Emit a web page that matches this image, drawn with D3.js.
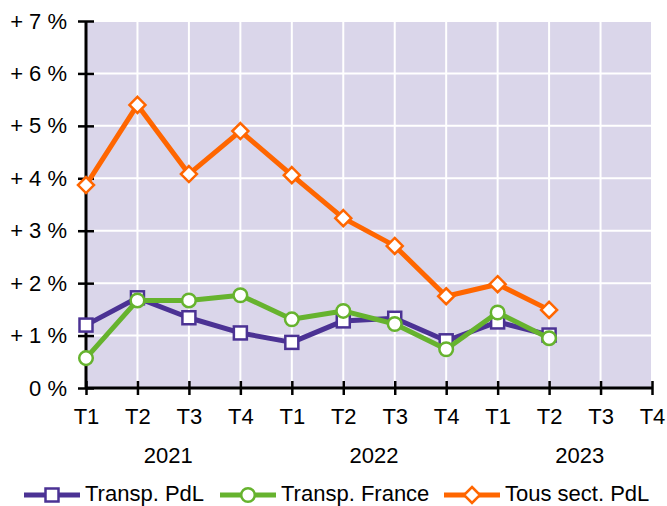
<!DOCTYPE html>
<html>
<head>
<meta charset="utf-8">
<script src="https://cdn.jsdelivr.net/npm/d3@7"></script>
<style>
  body { margin: 0; background: #fff; }
  text { font-family: "Liberation Sans", Arial, sans-serif; }
</style>
</head>
<body>
<div class="chart"></div>
<script>
// quarters (T1..T4) over 2021-2023
const quarters = ["2021-T1","2021-T2","2021-T3","2021-T4","2022-T1","2022-T2","2022-T3","2022-T4","2023-T1","2023-T2","2023-T3","2023-T4"];
const quarterLabels = ["T1","T2","T3","T4","T1","T2","T3","T4","T1","T2","T3","T4"];
const years = ["2021","2022","2023"];
const yTicks = [0,1,2,3,4,5,6,7];
const yTickLabels = ["0 %","+ 1 %","+ 2 %","+ 3 %","+ 4 %","+ 5 %","+ 6 %","+ 7 %"];

const transpPdl = [1.20,1.72,1.34,1.05,0.87,1.28,1.33,0.90,1.26,1.01];
const transpFrance = [0.57,1.67,1.67,1.77,1.31,1.47,1.22,0.74,1.44,0.95];
const tousSectPdl = [3.87,5.40,4.08,4.90,4.06,3.24,2.71,1.75,1.98,1.49];

const seriesNames = ["Transp. PdL","Transp. France","Tous sect. PdL"];

function Charting(){
    const width = 667, height = 506;
    const left = 86, right = 652, top = 21, bottom = 388;
    const fontSize = 22;

    const svg = d3.select(".chart").append("svg")
    .attr("width", width)
    .attr("height", height);

    const xScale = d3.scalePoint()
    .domain(quarters)
    .range([left, right]);

    const yScale = d3.scaleLinear()
    .domain([0, 7])
    .range([bottom, top]);

    // plot background
    svg.append("rect")
    .attr("x", left)
    .attr("y", top)
    .attr("width", right - left)
    .attr("height", bottom - top)
    .attr("fill", "#dad6ea");

    // white grid
    svg.append("g")
    .selectAll("line")
    .data(yTicks)
    .enter()
    .append("line")
    .attr("x1", left)
    .attr("x2", right)
    .attr("y1", d => yScale(d))
    .attr("y2", d => yScale(d))
    .attr("stroke", "#fff")
    .attr("stroke-width", 2);

    svg.append("g")
    .selectAll("line")
    .data(quarters)
    .enter()
    .append("line")
    .attr("x1", d => xScale(d))
    .attr("x2", d => xScale(d))
    .attr("y1", top)
    .attr("y2", bottom)
    .attr("stroke", "#fff")
    .attr("stroke-width", 2);

    // axes
    const yAxis = d3.axisLeft(yScale)
    .tickValues(yTicks)
    .tickFormat((d, i) => yTickLabels[i])
    .tickSize(8)
    .tickPadding(11);

    const gy = svg.append("g")
    .attr("transform", `translate(${left},0)`)
    .call(yAxis);

    const xAxis = d3.axisBottom(xScale)
    .tickFormat((d, i) => quarterLabels[i])
    .tickSize(7)
    .tickPadding(13);

    const gx = svg.append("g")
    .attr("transform", `translate(0,${bottom})`)
    .call(xAxis);

    gy.selectAll(".tick line").attr("x1", 8).attr("x2", -8);
    gx.selectAll(".tick line").attr("y1", -7).attr("y2", 7);

    [gx, gy].forEach(g => {
        g.select(".domain").remove();
        g.selectAll(".tick line").attr("stroke", "#000").attr("stroke-width", 2.5);
        g.selectAll("text").attr("font-size", fontSize).attr("fill", "#000")
        .attr("font-family", "Liberation Sans, Arial, sans-serif");
    });

    svg.append("line")
    .attr("x1", left).attr("x2", left)
    .attr("y1", top).attr("y2", bottom)
    .attr("stroke", "#000").attr("stroke-width", 3);
    svg.append("line")
    .attr("x1", left).attr("x2", right)
    .attr("y1", bottom).attr("y2", bottom)
    .attr("stroke", "#000").attr("stroke-width", 3);

    // year labels
    svg.selectAll(".year")
    .data(years)
    .enter()
    .append("text")
    .attr("class", "year")
    .attr("x", (d, i) => (xScale(quarters[i*4+1]) + xScale(quarters[i*4+2])) / 2 + 5)
    .attr("y", 463)
    .attr("text-anchor", "middle")
    .attr("font-size", fontSize)
    .text(d => d);

    const series = [
        {name: seriesNames[0], values: transpPdl, color: "#4b3294", shape: "square"},
        {name: seriesNames[1], values: transpFrance, color: "#66b32e", shape: "circle"},
        {name: seriesNames[2], values: tousSectPdl, color: "#ff6600", shape: "diamond"}
    ];

    const line = d3.line()
    .x((d, i) => xScale(quarters[i]))
    .y(d => yScale(d));

    function drawMarker(g, shape, color, cx, cy){
        if (shape === "square") {
            g.append("rect")
            .attr("x", cx - 6.5).attr("y", cy - 6.5)
            .attr("width", 13).attr("height", 13)
            .attr("fill", "#fff").attr("stroke", color).attr("stroke-width", 2.5);
        } else if (shape === "circle") {
            g.append("circle")
            .attr("cx", cx).attr("cy", cy).attr("r", 6.8)
            .attr("fill", "#fff").attr("stroke", color).attr("stroke-width", 2.5);
        } else {
            g.append("path")
            .attr("d", `M${cx},${cy-8}L${cx+8},${cy}L${cx},${cy+8}L${cx-8},${cy}Z`)
            .attr("fill", "#fff").attr("stroke", color).attr("stroke-width", 2.5);
        }
    }

    series.forEach(s => {
        const g = svg.append("g");
        g.append("path")
        .datum(s.values)
        .attr("d", line)
        .attr("fill", "none")
        .attr("stroke", s.color)
        .attr("stroke-width", 5)
        .attr("stroke-linejoin", "round");
        s.values.forEach((v, i) => drawMarker(g, s.shape, s.color, xScale(quarters[i]), yScale(v)));
    });

    // legend
    const legendX = [24, 220, 444];
    series.forEach((s, i) => {
        const g = svg.append("g");
        const x0 = legendX[i];
        g.append("line")
        .attr("x1", x0).attr("x2", x0 + 56)
        .attr("y1", 495).attr("y2", 495)
        .attr("stroke", s.color).attr("stroke-width", 5);
        drawMarker(g, s.shape, s.color, x0 + 28, 495);
        g.append("text")
        .attr("x", x0 + 61)
        .attr("y", 501)
        .attr("font-size", fontSize)
        .text(s.name);
    });
}

Charting()
</script>
</body>
</html>
